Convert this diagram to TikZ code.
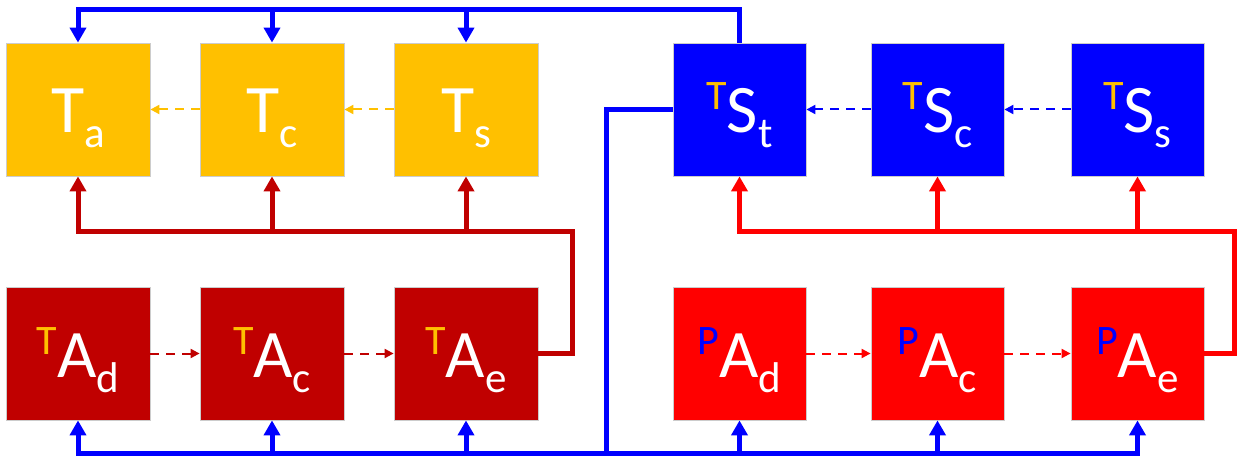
\documentclass[tikz,border=0pt]{standalone}
\definecolor{goldyellow}{RGB}{255, 192, 0}
\definecolor{darkred}{RGB}{192, 0, 0}
\definecolor{brightred}{RGB}{255, 0, 0}
\definecolor{pureblue}{RGB}{0, 0, 255}
\usepackage{fontspec}
\setmainfont{Carlito}
\usepackage{tikz}
\usetikzlibrary{arrows.meta}

% main letter with subscript, and with coloured superscript in front
\newcommand{\sublbl}[2]{#1\raisebox{-15pt}{\fontsize{43}{43}\selectfont #2}}
\newcommand{\presublbl}[4]{\raisebox{23pt}{\fontsize{42}{42}\selectfont\color{#1}#2}#3\raisebox{-15pt}{\fontsize{43}{43}\selectfont #4}}

\begin{document}
\begin{tikzpicture}[x=1pt, y=-1pt,
    block/.style={draw=gray!40, line width=0.8pt, minimum width=144pt, minimum height=133pt,
      inner sep=0pt, text=white, font=\fontsize{68}{68}\selectfont, text height=52pt, text depth=5pt},
    narrowblock/.style={block, minimum width=133pt},
    wire/.style={line width=5pt, -{Triangle[width=16pt, length=15pt]}},
    dashwire/.style={line width=2pt, dash pattern=on 9pt off 7pt, -{Triangle[width=9pt, length=9pt]}}]
      \useasboundingbox (0,0) rectangle (1237,462);
      % Top row
      \node[block, fill=goldyellow] (Ta) at (78,109.5) {\sublbl{T}{a}};
      \node[block, fill=goldyellow] (Tc) at (272,109.5) {\sublbl{T}{c}};
      \node[block, fill=goldyellow] (Ts) at (466,109.5) {\sublbl{T}{s}};
      \node[narrowblock, fill=pureblue] (TSt) at (739.5,109.5) {\presublbl{goldyellow}{T}{S}{t}};
      \node[narrowblock, fill=pureblue] (TSc) at (937.5,109.5) {\presublbl{goldyellow}{T}{S}{c}};
      \node[narrowblock, fill=pureblue] (TSs) at (1137.5,109.5) {\presublbl{goldyellow}{T}{S}{s}};
      % Bottom row
      \node[block, fill=darkred] (TAd) at (78,353.5) {\presublbl{goldyellow}{T}{A}{d}};
      \node[block, fill=darkred] (TAc) at (272,353.5) {\presublbl{goldyellow}{T}{A}{c}};
      \node[block, fill=darkred] (TAe) at (466,353.5) {\presublbl{goldyellow}{T}{A}{e}};
      \node[narrowblock, fill=brightred] (PAd) at (739.5,353.5) {\presublbl{pureblue}{P}{A}{d}};
      \node[narrowblock, fill=brightred] (PAc) at (937.5,353.5) {\presublbl{pureblue}{P}{A}{c}};
      \node[narrowblock, fill=brightred] (PAe) at (1137.5,353.5) {\presublbl{pureblue}{P}{A}{e}};

      % Dashed chains
      \draw[dashwire, goldyellow] (Tc) -- (Ta);
      \draw[dashwire, goldyellow] (Ts) -- (Tc);
      \draw[dashwire, pureblue] (TSc) -- (TSt);
      \draw[dashwire, pureblue] (TSs) -- (TSc);
      \draw[dashwire, darkred] (TAd) -- (TAc);
      \draw[dashwire, darkred] (TAc) -- (TAe);
      \draw[dashwire, brightred] (PAd) -- (PAc);
      \draw[dashwire, brightred] (PAc) -- (PAe);

      % Corner points of the feedback wires
      \coordinate (topbus) at (78,10);
      \coordinate (lowbus) at (606,453);
      \coordinate (dredbus) at (572,232);
      \coordinate (redbus) at (1234,232);

      % Blue wire over the top row
      \draw[wire, pureblue] (TSt.north) |- (topbus) -- (Ta.north);
      \foreach \n in {Tc, Ts} {
        \draw[wire, pureblue] (\n.north |- topbus) -- (\n.north);
      }
      % Blue wire under the bottom row
      \draw[wire, pureblue] (TSt.west) -| (lowbus) -| (TAd.south);
      \draw[wire, pureblue] (lowbus) -| (PAe.south);
      \foreach \n in {TAc, TAe, PAd, PAc} {
        \draw[wire, pureblue] (\n.south |- lowbus) -- (\n.south);
      }
      % Dark red wire
      \draw[wire, darkred] (TAe.east) -| (dredbus) -| (Ta.south);
      \foreach \n in {Tc, Ts} {
        \draw[wire, darkred] (\n.south |- dredbus) -- (\n.south);
      }
      % Red wire
      \draw[wire, brightred] (PAe.east) -| (redbus) -| (TSt.south);
      \foreach \n in {TSc, TSs} {
        \draw[wire, brightred] (\n.south |- redbus) -- (\n.south);
      }
    \end{tikzpicture}
\end{document}
